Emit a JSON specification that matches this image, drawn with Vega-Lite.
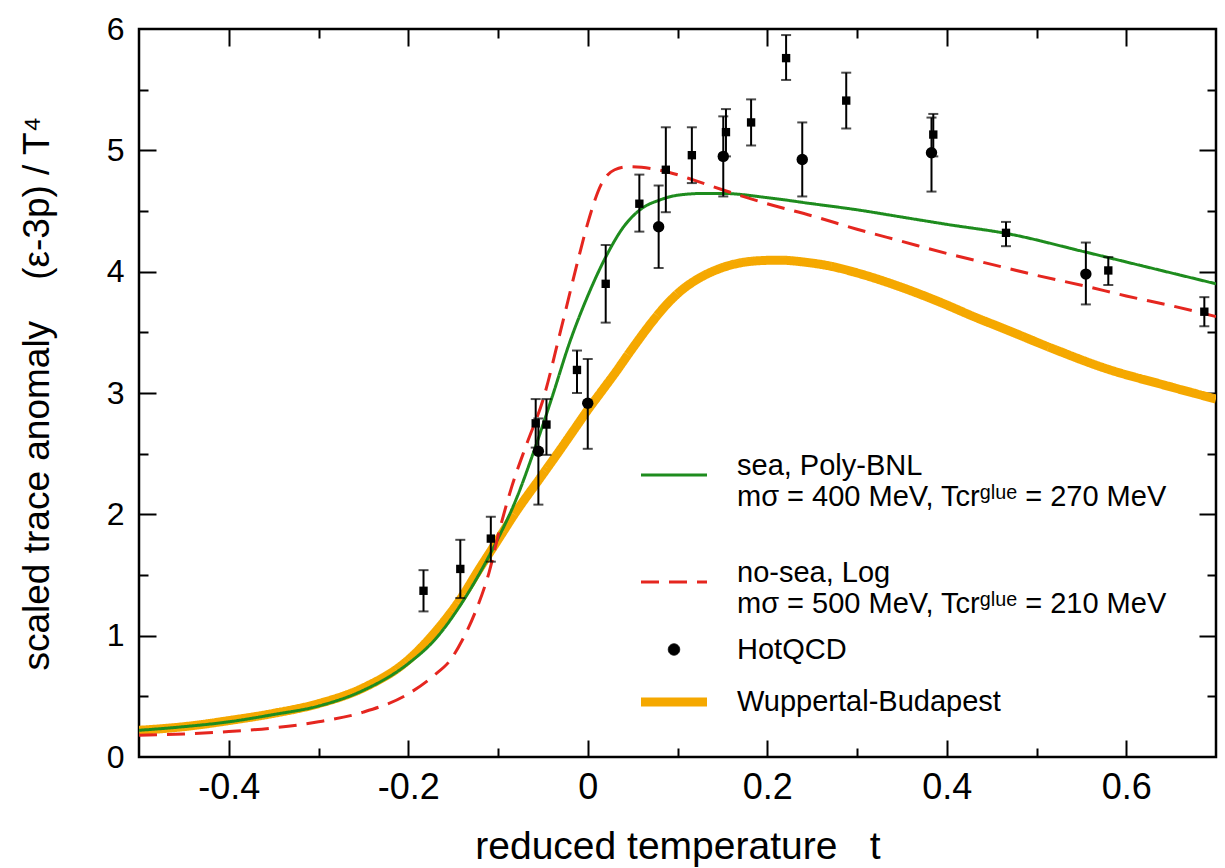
{
  "$schema": "https://vega.github.io/schema/vega-lite/v6.json",
  "width": 1077,
  "height": 728,
  "autosize": {"type": "none"},
  "padding": {"left": 139, "top": 29, "right": 9, "bottom": 111},
  "background": "white",
  "config": {
    "font": "Liberation Sans",
    "view": {"stroke": "black", "strokeWidth": 2.5},
    "axis": {"grid": false, "domain": false, "tickColor": "black", "tickWidth": 2, "labelColor": "black", "titleColor": "black", "titleFontWeight": "normal", "labelFlush": false, "labelOverlap": false}
  },
  "datasets": {
    "curves": [
      {"series": "Wuppertal-Budapest", "t": -0.5, "v": 0.22},
      {"series": "Wuppertal-Budapest", "t": -0.45, "v": 0.25},
      {"series": "Wuppertal-Budapest", "t": -0.4, "v": 0.3},
      {"series": "Wuppertal-Budapest", "t": -0.35, "v": 0.36},
      {"series": "Wuppertal-Budapest", "t": -0.3, "v": 0.44},
      {"series": "Wuppertal-Budapest", "t": -0.25, "v": 0.57},
      {"series": "Wuppertal-Budapest", "t": -0.2, "v": 0.8},
      {"series": "Wuppertal-Budapest", "t": -0.17, "v": 1.03},
      {"series": "Wuppertal-Budapest", "t": -0.142, "v": 1.3},
      {"series": "Wuppertal-Budapest", "t": -0.12, "v": 1.56},
      {"series": "Wuppertal-Budapest", "t": -0.1, "v": 1.79},
      {"series": "Wuppertal-Budapest", "t": -0.08, "v": 2.02},
      {"series": "Wuppertal-Budapest", "t": -0.053, "v": 2.3},
      {"series": "Wuppertal-Budapest", "t": -0.03, "v": 2.54},
      {"series": "Wuppertal-Budapest", "t": -0.015, "v": 2.7},
      {"series": "Wuppertal-Budapest", "t": 0.0, "v": 2.86},
      {"series": "Wuppertal-Budapest", "t": 0.015, "v": 3.01},
      {"series": "Wuppertal-Budapest", "t": 0.03, "v": 3.16},
      {"series": "Wuppertal-Budapest", "t": 0.05, "v": 3.37},
      {"series": "Wuppertal-Budapest", "t": 0.07, "v": 3.57},
      {"series": "Wuppertal-Budapest", "t": 0.088, "v": 3.73},
      {"series": "Wuppertal-Budapest", "t": 0.105, "v": 3.85},
      {"series": "Wuppertal-Budapest", "t": 0.125, "v": 3.95},
      {"series": "Wuppertal-Budapest", "t": 0.145, "v": 4.02},
      {"series": "Wuppertal-Budapest", "t": 0.165, "v": 4.065},
      {"series": "Wuppertal-Budapest", "t": 0.19, "v": 4.09},
      {"series": "Wuppertal-Budapest", "t": 0.214, "v": 4.095},
      {"series": "Wuppertal-Budapest", "t": 0.24, "v": 4.08},
      {"series": "Wuppertal-Budapest", "t": 0.274, "v": 4.04},
      {"series": "Wuppertal-Budapest", "t": 0.3, "v": 3.99},
      {"series": "Wuppertal-Budapest", "t": 0.35, "v": 3.87},
      {"series": "Wuppertal-Budapest", "t": 0.392, "v": 3.75},
      {"series": "Wuppertal-Budapest", "t": 0.43, "v": 3.63},
      {"series": "Wuppertal-Budapest", "t": 0.467, "v": 3.52},
      {"series": "Wuppertal-Budapest", "t": 0.52, "v": 3.36},
      {"series": "Wuppertal-Budapest", "t": 0.578, "v": 3.2},
      {"series": "Wuppertal-Budapest", "t": 0.64, "v": 3.07},
      {"series": "Wuppertal-Budapest", "t": 0.7, "v": 2.95},
      {"series": "sea, Poly-BNL", "t": -0.5, "v": 0.22},
      {"series": "sea, Poly-BNL", "t": -0.45, "v": 0.25},
      {"series": "sea, Poly-BNL", "t": -0.4, "v": 0.29},
      {"series": "sea, Poly-BNL", "t": -0.35, "v": 0.35},
      {"series": "sea, Poly-BNL", "t": -0.3, "v": 0.42},
      {"series": "sea, Poly-BNL", "t": -0.25, "v": 0.55},
      {"series": "sea, Poly-BNL", "t": -0.2, "v": 0.77},
      {"series": "sea, Poly-BNL", "t": -0.17, "v": 0.97},
      {"series": "sea, Poly-BNL", "t": -0.142, "v": 1.25},
      {"series": "sea, Poly-BNL", "t": -0.12, "v": 1.52},
      {"series": "sea, Poly-BNL", "t": -0.1, "v": 1.8},
      {"series": "sea, Poly-BNL", "t": -0.08, "v": 2.12},
      {"series": "sea, Poly-BNL", "t": -0.06, "v": 2.52},
      {"series": "sea, Poly-BNL", "t": -0.04, "v": 2.96},
      {"series": "sea, Poly-BNL", "t": -0.02, "v": 3.42},
      {"series": "sea, Poly-BNL", "t": 0.0, "v": 3.8},
      {"series": "sea, Poly-BNL", "t": 0.02, "v": 4.12},
      {"series": "sea, Poly-BNL", "t": 0.04, "v": 4.37},
      {"series": "sea, Poly-BNL", "t": 0.06, "v": 4.52},
      {"series": "sea, Poly-BNL", "t": 0.08, "v": 4.59},
      {"series": "sea, Poly-BNL", "t": 0.1, "v": 4.63},
      {"series": "sea, Poly-BNL", "t": 0.13, "v": 4.645},
      {"series": "sea, Poly-BNL", "t": 0.15, "v": 4.645},
      {"series": "sea, Poly-BNL", "t": 0.2, "v": 4.61},
      {"series": "sea, Poly-BNL", "t": 0.25, "v": 4.56},
      {"series": "sea, Poly-BNL", "t": 0.3, "v": 4.51},
      {"series": "sea, Poly-BNL", "t": 0.35, "v": 4.45},
      {"series": "sea, Poly-BNL", "t": 0.4, "v": 4.39},
      {"series": "sea, Poly-BNL", "t": 0.47, "v": 4.31},
      {"series": "sea, Poly-BNL", "t": 0.55, "v": 4.17},
      {"series": "sea, Poly-BNL", "t": 0.6, "v": 4.08},
      {"series": "sea, Poly-BNL", "t": 0.65, "v": 3.99},
      {"series": "sea, Poly-BNL", "t": 0.7, "v": 3.9},
      {"series": "no-sea, Log", "t": -0.5, "v": 0.18},
      {"series": "no-sea, Log", "t": -0.45, "v": 0.19},
      {"series": "no-sea, Log", "t": -0.4, "v": 0.21},
      {"series": "no-sea, Log", "t": -0.35, "v": 0.24},
      {"series": "no-sea, Log", "t": -0.3, "v": 0.29},
      {"series": "no-sea, Log", "t": -0.25, "v": 0.37},
      {"series": "no-sea, Log", "t": -0.2, "v": 0.52},
      {"series": "no-sea, Log", "t": -0.17, "v": 0.68},
      {"series": "no-sea, Log", "t": -0.153, "v": 0.8},
      {"series": "no-sea, Log", "t": -0.14, "v": 0.96},
      {"series": "no-sea, Log", "t": -0.125, "v": 1.2},
      {"series": "no-sea, Log", "t": -0.11, "v": 1.52},
      {"series": "no-sea, Log", "t": -0.098, "v": 1.88},
      {"series": "no-sea, Log", "t": -0.085, "v": 2.22},
      {"series": "no-sea, Log", "t": -0.068, "v": 2.58},
      {"series": "no-sea, Log", "t": -0.05, "v": 2.94},
      {"series": "no-sea, Log", "t": -0.03, "v": 3.52},
      {"series": "no-sea, Log", "t": -0.01, "v": 4.12},
      {"series": "no-sea, Log", "t": 0.0, "v": 4.4},
      {"series": "no-sea, Log", "t": 0.015, "v": 4.72},
      {"series": "no-sea, Log", "t": 0.03, "v": 4.84},
      {"series": "no-sea, Log", "t": 0.045, "v": 4.865},
      {"series": "no-sea, Log", "t": 0.06, "v": 4.86},
      {"series": "no-sea, Log", "t": 0.09, "v": 4.82},
      {"series": "no-sea, Log", "t": 0.12, "v": 4.75},
      {"series": "no-sea, Log", "t": 0.15, "v": 4.675},
      {"series": "no-sea, Log", "t": 0.2, "v": 4.56},
      {"series": "no-sea, Log", "t": 0.25, "v": 4.46},
      {"series": "no-sea, Log", "t": 0.3, "v": 4.35},
      {"series": "no-sea, Log", "t": 0.35, "v": 4.25},
      {"series": "no-sea, Log", "t": 0.4, "v": 4.15},
      {"series": "no-sea, Log", "t": 0.45, "v": 4.06},
      {"series": "no-sea, Log", "t": 0.5, "v": 3.97},
      {"series": "no-sea, Log", "t": 0.555, "v": 3.88},
      {"series": "no-sea, Log", "t": 0.6, "v": 3.8},
      {"series": "no-sea, Log", "t": 0.65, "v": 3.72},
      {"series": "no-sea, Log", "t": 0.7, "v": 3.63}
    ],
    "hotqcd": [
      {"series": "HotQCD", "t": -0.055, "v": 2.52, "lo": 2.08, "hi": 2.79},
      {"series": "HotQCD", "t": 0.0, "v": 2.915, "lo": 2.54, "hi": 3.28},
      {"series": "HotQCD", "t": 0.079, "v": 4.37, "lo": 4.03, "hi": 4.71},
      {"series": "HotQCD", "t": 0.151, "v": 4.95, "lo": 4.62, "hi": 5.28},
      {"series": "HotQCD", "t": 0.239, "v": 4.925, "lo": 4.62, "hi": 5.23},
      {"series": "HotQCD", "t": 0.383, "v": 4.98, "lo": 4.66, "hi": 5.27},
      {"series": "HotQCD", "t": 0.555, "v": 3.98, "lo": 3.73, "hi": 4.24}
    ],
    "lattice": [
      {"t": -0.183, "v": 1.37, "lo": 1.2, "hi": 1.54},
      {"t": -0.142, "v": 1.55, "lo": 1.31, "hi": 1.79},
      {"t": -0.108, "v": 1.8, "lo": 1.61, "hi": 1.98},
      {"t": -0.058, "v": 2.75, "lo": 2.55, "hi": 2.95},
      {"t": -0.046, "v": 2.74, "lo": 2.49, "hi": 2.95},
      {"t": -0.012, "v": 3.19, "lo": 3.0, "hi": 3.35},
      {"t": 0.02, "v": 3.9, "lo": 3.58, "hi": 4.22},
      {"t": 0.0575, "v": 4.56, "lo": 4.33, "hi": 4.8},
      {"t": 0.087, "v": 4.84, "lo": 4.49, "hi": 5.19},
      {"t": 0.116, "v": 4.96, "lo": 4.73, "hi": 5.19},
      {"t": 0.154, "v": 5.15, "lo": 4.95, "hi": 5.34},
      {"t": 0.182, "v": 5.23, "lo": 5.04, "hi": 5.42},
      {"t": 0.221, "v": 5.76, "lo": 5.58, "hi": 5.95},
      {"t": 0.288, "v": 5.41, "lo": 5.18, "hi": 5.64},
      {"t": 0.385, "v": 5.13, "lo": 4.95, "hi": 5.3},
      {"t": 0.466, "v": 4.32, "lo": 4.21, "hi": 4.41},
      {"t": 0.58, "v": 4.01, "lo": 3.89, "hi": 4.12},
      {"t": 0.687, "v": 3.67, "lo": 3.55, "hi": 3.79}
    ]
  },
  "resolve": {"axis": {"x": "independent", "y": "independent"}},
  "layer": [
    {
      "data": {"name": "curves"},
      "mark": {"type": "line", "interpolate": "monotone", "clip": true},
      "encoding": {
        "x": {"field": "t", "type": "quantitative", "scale": {"domain": [-0.5, 0.7], "nice": false, "zero": false},
          "axis": {"orient": "bottom", "values": [-0.4, -0.2, 0, 0.2, 0.4, 0.6], "ticks": false,
            "labelExpr": "(datum.value < -0.001 ? '-' : '') + format(abs(datum.value), '.1~f')",
            "labelFontSize": 36, "labelPadding": 13,
            "title": "reduced temperature\u00a0\u00a0\u00a0t", "titleFontSize": 39, "titlePadding": 22}},
        "y": {"field": "v", "type": "quantitative", "scale": {"domain": [0, 6], "nice": false, "zero": false},
          "axis": {"orient": "left", "values": [0, 1, 2, 3, 4, 5, 6], "ticks": false,
            "labelExpr": "format(datum.value, 'd')",
            "labelFontSize": 32, "labelPadding": 15,
            "title": "scaled trace anomaly\u00a0\u00a0\u00a0\u00a0(ε-3p) / T⁴", "titleFontSize": 37, "titlePadding": 50}},
        "color": {"field": "series", "type": "nominal",
          "scale": {"domain": ["sea, Poly-BNL", "no-sea, Log", "HotQCD", "Wuppertal-Budapest"], "range": ["#1e8c1e", "#e5261f", "#000000", "#f5a800"]},
          "legend": {"orient": "none", "legendX": 514, "legendY": 428, "title": null, "padding": 0,
            "labelFontSize": 29, "labelOffset": 42, "labelLimit": 0, "rowPadding": 16, "labelColor": "black",
            "labelBaseline": {"expr": "(datum.label == 'sea, Poly-BNL' || datum.label == 'no-sea, Log') ? 'alphabetic' : 'middle'"},
            "labelExpr": "datum.label == 'sea, Poly-BNL' ? ['sea, Poly-BNL', 'mσ = 400 MeV, Tcrᵍˡᵘᵉ = 270 MeV', ''] : datum.label == 'no-sea, Log' ? ['no-sea, Log', 'mσ = 500 MeV, Tcrᵍˡᵘᵉ = 210 MeV'] : datum.label"}},
        "strokeDash": {"field": "series", "type": "nominal",
          "scale": {"domain": ["sea, Poly-BNL", "no-sea, Log", "HotQCD", "Wuppertal-Budapest"], "range": [[1, 0], [18, 10], [1, 0], [1, 0]]}},
        "strokeWidth": {"field": "series", "type": "nominal",
          "scale": {"type": "ordinal", "domain": ["sea, Poly-BNL", "no-sea, Log", "HotQCD", "Wuppertal-Budapest"], "range": [3, 3, 1, 9]}}
      }
    },
    {
      "data": {"name": "lattice"},
      "mark": {"type": "rule", "color": "black", "strokeWidth": 2},
      "encoding": {
        "x": {"field": "t", "type": "quantitative",
          "axis": {"orient": "bottom", "values": [-0.4, -0.2, 0, 0.2, 0.4, 0.6], "labels": false, "title": null, "tickSize": -17}},
        "y": {"field": "lo", "type": "quantitative",
          "axis": {"orient": "left", "values": [1, 2, 3, 4, 5], "labels": false, "title": null, "tickSize": -17}},
        "y2": {"field": "hi"}
      }
    },
    {
      "data": {"name": "hotqcd"},
      "mark": {"type": "rule", "color": "black", "strokeWidth": 2},
      "encoding": {
        "x": {"field": "t", "type": "quantitative",
          "axis": {"orient": "bottom", "values": [-0.3, -0.1, 0.1, 0.3, 0.5], "labels": false, "title": null, "tickSize": -9}},
        "y": {"field": "lo", "type": "quantitative",
          "axis": {"orient": "left", "values": [0.5, 1.5, 2.5, 3.5, 4.5, 5.5], "labels": false, "title": null, "tickSize": -9}},
        "y2": {"field": "hi"}
      }
    },
    {
      "data": {"name": "lattice"},
      "mark": {"type": "tick", "orient": "horizontal", "color": "black", "size": 10, "thickness": 2},
      "encoding": {
        "x": {"field": "t", "type": "quantitative",
          "axis": {"orient": "top", "values": [-0.4, -0.2, 0, 0.2, 0.4, 0.6], "labels": false, "title": null, "tickSize": -17}},
        "y": {"field": "lo", "type": "quantitative",
          "axis": {"orient": "right", "values": [1, 2, 3, 4, 5], "labels": false, "title": null, "tickSize": -17}}
      }
    },
    {
      "data": {"name": "lattice"},
      "mark": {"type": "tick", "orient": "horizontal", "color": "black", "size": 10, "thickness": 2},
      "encoding": {
        "x": {"field": "t", "type": "quantitative",
          "axis": {"orient": "top", "values": [-0.3, -0.1, 0.1, 0.3, 0.5], "labels": false, "title": null, "tickSize": -9}},
        "y": {"field": "hi", "type": "quantitative",
          "axis": {"orient": "right", "values": [0.5, 1.5, 2.5, 3.5, 4.5, 5.5], "labels": false, "title": null, "tickSize": -9}}
      }
    },
    {
      "data": {"name": "hotqcd"},
      "mark": {"type": "tick", "orient": "horizontal", "color": "black", "size": 10, "thickness": 2},
      "encoding": {
        "x": {"field": "t", "type": "quantitative", "axis": null},
        "y": {"field": "lo", "type": "quantitative", "axis": null}
      }
    },
    {
      "data": {"name": "hotqcd"},
      "mark": {"type": "tick", "orient": "horizontal", "color": "black", "size": 10, "thickness": 2},
      "encoding": {
        "x": {"field": "t", "type": "quantitative", "axis": null},
        "y": {"field": "hi", "type": "quantitative", "axis": null}
      }
    },
    {
      "data": {"name": "lattice"},
      "mark": {"type": "point", "shape": "square", "filled": true, "color": "black", "size": 70, "opacity": 1},
      "encoding": {
        "x": {"field": "t", "type": "quantitative", "axis": null},
        "y": {"field": "v", "type": "quantitative", "axis": null}
      }
    },
    {
      "data": {"name": "hotqcd"},
      "mark": {"type": "point", "filled": true, "opacity": 1},
      "encoding": {
        "x": {"field": "t", "type": "quantitative", "axis": null},
        "y": {"field": "v", "type": "quantitative", "axis": null},
        "color": {"field": "series", "type": "nominal"},
        "shape": {"field": "series", "type": "nominal",
          "scale": {"domain": ["sea, Poly-BNL", "no-sea, Log", "HotQCD", "Wuppertal-Budapest"], "range": ["M-2,0H2", "M-2,0H2", "circle", "M-2,0H2"]}},
        "size": {"field": "series", "type": "nominal",
          "scale": {"type": "ordinal", "domain": ["sea, Poly-BNL", "no-sea, Log", "HotQCD", "Wuppertal-Budapest"], "range": [1089, 1089, 130, 1089]}}
      }
    }
  ]
}
